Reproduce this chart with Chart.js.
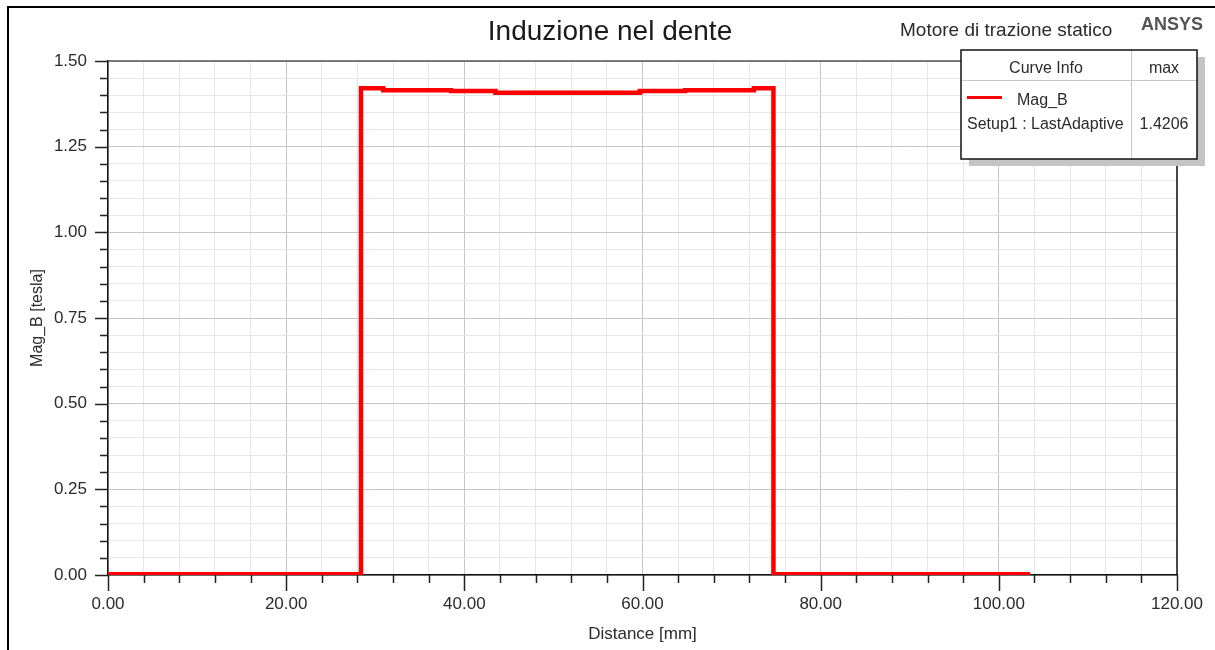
<!DOCTYPE html>
<html>
<head>
<meta charset="utf-8">
<title>Induzione nel dente</title>
<script src="https://cdn.jsdelivr.net/npm/chart.js@4.4.1/dist/chart.umd.min.js"></script>
<style>
  html, body { margin: 0; padding: 0; background: #fff; }
  #wrap { position: relative; width: 1215px; height: 650px; }
</style>
</head>
<body>
<div id="wrap"><canvas id="chart"></canvas></div>
<script>
// ─── Data ─────────────────────────────────────────
const distanceMm = [0, 28.4, 30.9, 38.5, 43.5, 59.7, 64.8, 72.5, 74.7, 103.5];
const magB = [0.002, 1.4206, 1.4150, 1.4125, 1.4075, 1.4125, 1.4150, 1.4206, 0.002, 0.002];

const xTicks = [0, 20, 40, 60, 80, 100, 120];
const yTicks = [0, 0.25, 0.5, 0.75, 1.0, 1.25, 1.5];

const FONT = "'Liberation Sans', Arial, sans-serif";
const TEXT = '#2b2b2b';

const isMajor = (v, step) => Math.abs(v / step - Math.round(v / step)) < 1e-6;

// ─── Frame, tick marks, header texts, curve info box ─────
const decorPlugin = {
  id: 'decor',
  beforeDraw(chart) {
    const { ctx } = chart;
    ctx.save();
    ctx.strokeStyle = '#000';
    ctx.lineWidth = 2;
    ctx.beginPath();
    ctx.moveTo(8, 650);
    ctx.lineTo(8, 7);
    ctx.lineTo(1215, 7);
    ctx.stroke();
    ctx.restore();
  },
  afterDraw(chart) {
    const { ctx, chartArea: a, scales: { x, y } } = chart;
    ctx.save();

    // plot frame top + right
    ctx.lineWidth = 1.5;
    ctx.strokeStyle = '#555';
    ctx.beginPath();
    ctx.moveTo(a.left, a.top);
    ctx.lineTo(a.right, a.top);
    ctx.stroke();
    ctx.strokeStyle = '#111';
    ctx.beginPath();
    ctx.moveTo(a.right, a.top);
    ctx.lineTo(a.right, a.bottom);
    ctx.stroke();

    // tick marks (long on labelled values)
    ctx.strokeStyle = '#222';
    ctx.lineWidth = 1.5;
    ctx.beginPath();
    x.ticks.forEach(t => {
      const px = Math.round(x.getPixelForValue(t.value)) + 0.5;
      const len = isMajor(t.value, 20) ? 16 : 8;
      ctx.moveTo(px, a.bottom);
      ctx.lineTo(px, a.bottom + len);
    });
    y.ticks.forEach(t => {
      const py = Math.round(y.getPixelForValue(t.value)) + 0.5;
      const len = isMajor(t.value, 0.25) ? 13 : 8;
      ctx.moveTo(a.left, py);
      ctx.lineTo(a.left - len, py);
    });
    ctx.stroke();

    // header texts
    ctx.textBaseline = 'middle';
    ctx.fillStyle = '#1a1a1a';
    ctx.textAlign = 'center';
    ctx.font = `28px ${FONT}`;
    ctx.fillText('Induzione nel dente', 610, 32);
    ctx.fillStyle = TEXT;
    ctx.textAlign = 'left';
    ctx.font = `19px ${FONT}`;
    ctx.fillText('Motore di trazione statico', 900, 31);
    ctx.fillStyle = '#555';
    ctx.font = `bold 18px ${FONT}`;
    ctx.fillText('ANSYS', 1141, 25);

    // curve info box
    const bx = 961, by = 50, bw = 236, bh = 109, col = 1131.5;
    ctx.fillStyle = '#c4c4c4';
    ctx.fillRect(bx + 8, by + 7, bw, bh);
    ctx.fillStyle = '#fff';
    ctx.fillRect(bx, by, bw, bh);
    ctx.strokeStyle = '#c8c8c8';
    ctx.lineWidth = 1;
    ctx.beginPath();
    ctx.moveTo(bx, 80.5);
    ctx.lineTo(bx + bw, 80.5);
    ctx.moveTo(col, by);
    ctx.lineTo(col, by + bh);
    ctx.stroke();
    ctx.strokeStyle = '#111';
    ctx.lineWidth = 1.5;
    ctx.strokeRect(bx, by, bw, bh);

    ctx.fillStyle = TEXT;
    ctx.font = `16px ${FONT}`;
    ctx.textAlign = 'center';
    ctx.fillText('Curve Info', 1046, 69);
    ctx.fillText('max', 1164, 69);
    ctx.fillText(Math.max(...magB).toFixed(4), 1164, 125);
    ctx.textAlign = 'left';
    ctx.fillText('Mag_B', 1017, 101);
    ctx.fillText('Setup1 : LastAdaptive', 967, 125);
    ctx.strokeStyle = '#ff0000';
    ctx.lineWidth = 3;
    ctx.beginPath();
    ctx.moveTo(967, 97.5);
    ctx.lineTo(1002, 97.5);
    ctx.stroke();

    ctx.restore();
  }
};

// ─── Chart ───────────────────────────────────────
new Chart(document.getElementById('chart'), {
  type: 'scatter',
  data: {
    datasets: [{
      label: 'Mag_B',
      data: distanceMm.map((d, i) => ({ x: d, y: magB[i] })),
      showLine: true,
      stepped: true,
      borderColor: '#ff0000',
      borderWidth: 4.5,
      pointRadius: 0,
      borderCapStyle: 'butt',
      borderJoinStyle: 'miter',
    }],
  },
  options: {
    responsive: true,
    maintainAspectRatio: false,
    animation: false,
    layout: { padding: { top: 61, right: 38, bottom: 0, left: 0 } },
    plugins: {
      legend: { display: false },
      tooltip: { enabled: false },
    },
    scales: {
      x: {
        type: 'linear',
        min: xTicks[0],
        max: xTicks[xTicks.length - 1],
        afterFit: (s) => {
          s.height = 75;
          s.paddingLeft = 0;
          s.paddingRight = 0;
        },
        grid: {
          drawTicks: false,
          color: (c) => isMajor(c.tick.value, 20) ? '#c6c6c6' : '#e6e6e6',
        },
        border: { color: '#111', width: 1.5 },
        ticks: {
          stepSize: 4,
          autoSkip: false,
          maxRotation: 0,
          padding: 19,
          color: TEXT,
          font: { family: FONT, size: 17 },
          callback: (v) => xTicks.includes(v) ? v.toFixed(2) : '',
        },
        title: {
          display: true,
          text: 'Distance [mm]',
          color: TEXT,
          font: { family: FONT, size: 17 },
          padding: { top: 0, bottom: 5 },
        },
      },
      y: {
        type: 'linear',
        min: yTicks[0],
        max: yTicks[yTicks.length - 1],
        afterFit: (s) => { s.width = 108; },
        grid: {
          drawTicks: false,
          color: (c) => isMajor(c.tick.value, 0.25) ? '#c6c6c6' : '#e6e6e6',
        },
        border: { color: '#111', width: 1.5 },
        ticks: {
          stepSize: 0.05,
          autoSkip: false,
          padding: 21,
          color: TEXT,
          font: { family: FONT, size: 17 },
          callback: (v) => yTicks.some(t => Math.abs(t - v) < 1e-6) ? v.toFixed(2) : '',
        },
        title: {
          display: true,
          text: 'Mag_B [tesla]',
          color: TEXT,
          font: { family: FONT, size: 16 },
          padding: { top: 28, bottom: 0 },
        },
      },
    },
  },
  plugins: [decorPlugin],
});
</script>
</body>
</html>
